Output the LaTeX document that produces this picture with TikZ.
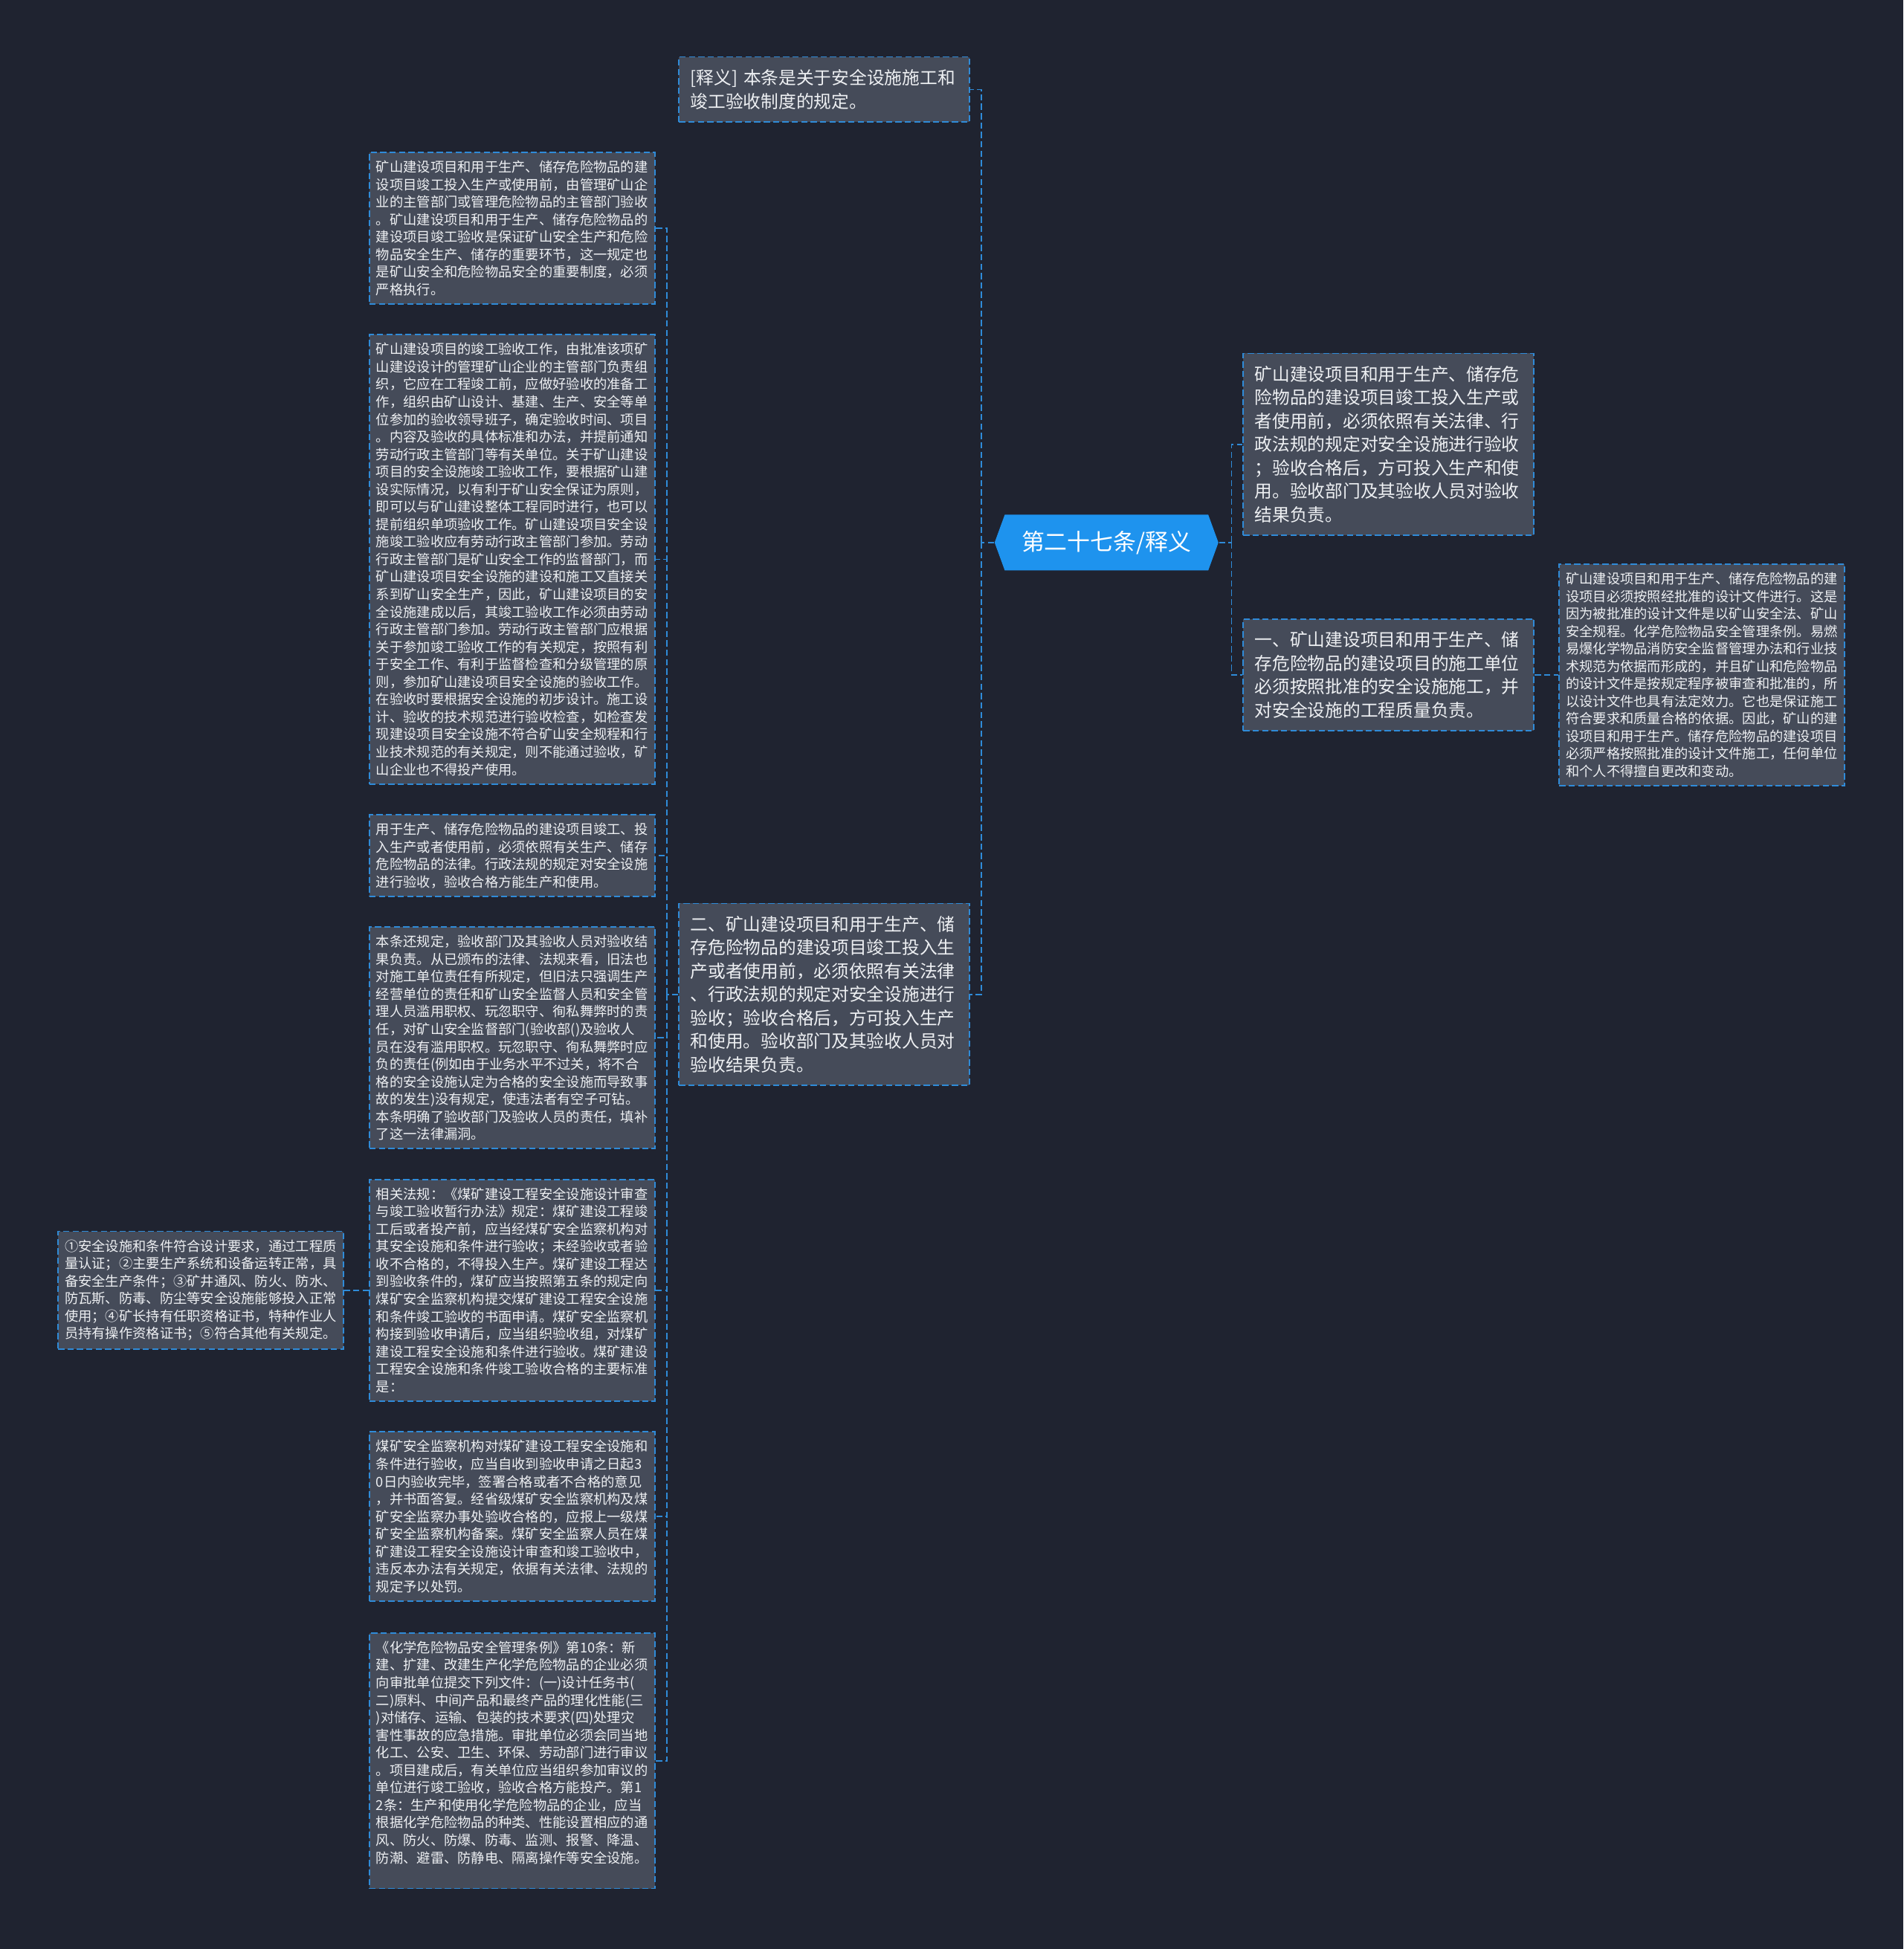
\documentclass[tikz,border=0pt]{standalone}
\usepackage{fontspec}
\setmainfont{Noto Sans CJK SC}
\usetikzlibrary{shapes.symbols,positioning}

\definecolor{bgdark}{HTML}{1F2330}
\definecolor{boxfill}{HTML}{454B59}
\definecolor{linkblue}{HTML}{2F8BD8}
\definecolor{rootblue}{HTML}{1E93EE}
\definecolor{txt}{HTML}{EEF0F3}

\begin{document}
\begin{tikzpicture}[
    note/.style={fill=boxfill, draw=linkblue, line width=0.5pt, dash pattern=on 2.4pt off 1.2pt,
        text=txt, align=left, inner ysep=0.11cm},
    small/.style={note, font=\fontsize{5.2}{6.7}\selectfont, text width=3.66cm, inner xsep=0.09cm},
    big/.style={note, font=\fontsize{6.75}{8.95}\selectfont, text width=3.6cm, inner xsep=0.155cm, inner ysep=0.17cm},
    root/.style={signal, signal to=west and east, signal pointer angle=140, fill=rootblue, text=white,
        font=\fontsize{8.8}{10}\selectfont, minimum width=3.01cm, minimum height=0.75cm, inner sep=0pt},
    link/.style={draw=linkblue, line width=0.5pt, dash pattern=on 2.4pt off 1.2pt},
]

% Background
\fill[bgdark] (0,0) rectangle (25.6,-26.22);

% Root
\node[root] (root) at (14.883,-7.299) {第二十七条/释义};

% Middle column
\node[big] (expl) at (11.087,-1.204) {[释义] 本条是关于安全设施施工和\\竣工验收制度的规定。};
\node[big] (mid) at (11.087,-13.378) {二、矿山建设项目和用于生产、储\\存危险物品的建设项目竣工投入生\\产或者使用前，必须依照有关法律\\、行政法规的规定对安全设施进行\\验收；验收合格后，方可投入生产\\和使用。验收部门及其验收人员对\\验收结果负责。};

% Right column
\node[big] (ra) at (18.678,-5.978) {矿山建设项目和用于生产、储存危\\险物品的建设项目竣工投入生产或\\者使用前，必须依照有关法律、行\\政法规的规定对安全设施进行验收\\；验收合格后，方可投入生产和使\\用。验收部门及其验收人员对验收\\结果负责。};
\node[big] (rb) at (18.678,-9.08) {一、矿山建设项目和用于生产、储\\存危险物品的建设项目的施工单位\\必须按照批准的安全设施施工，并\\对安全设施的工程质量负责。};
\node[small] (rc) at (22.892,-9.08) {矿山建设项目和用于生产、储存危险物品的建\\设项目必须按照经批准的设计文件进行。这是\\因为被批准的设计文件是以矿山安全法、矿山\\安全规程。化学危险物品安全管理条例。易燃\\易爆化学物品消防安全监督管理办法和行业技\\术规范为依据而形成的，并且矿山和危险物品\\的设计文件是按规定程序被审查和批准的，所\\以设计文件也具有法定效力。它也是保证施工\\符合要求和质量合格的依据。因此，矿山的建\\设项目和用于生产。储存危险物品的建设项目\\必须严格按照批准的设计文件施工，任何单位\\和个人不得擅自更改和变动。};

% Left column
\node[small] (l1) at (6.889,-3.069) {矿山建设项目和用于生产、储存危险物品的建\\设项目竣工投入生产或使用前，由管理矿山企\\业的主管部门或管理危险物品的主管部门验收\\。矿山建设项目和用于生产、储存危险物品的\\建设项目竣工验收是保证矿山安全生产和危险\\物品安全生产、储存的重要环节，这一规定也\\是矿山安全和危险物品安全的重要制度，必须\\严格执行。};
\node[small] (l2) at (6.889,-7.525) {矿山建设项目的竣工验收工作，由批准该项矿\\山建设设计的管理矿山企业的主管部门负责组\\织，它应在工程竣工前，应做好验收的准备工\\作，组织由矿山设计、基建、生产、安全等单\\位参加的验收领导班子，确定验收时间、项目\\。内容及验收的具体标准和办法，并提前通知\\劳动行政主管部门等有关单位。关于矿山建设\\项目的安全设施竣工验收工作，要根据矿山建\\设实际情况，以有利于矿山安全保证为原则，\\即可以与矿山建设整体工程同时进行，也可以\\提前组织单项验收工作。矿山建设项目安全设\\施竣工验收应有劳动行政主管部门参加。劳动\\行政主管部门是矿山安全工作的监督部门，而\\矿山建设项目安全设施的建设和施工又直接关\\系到矿山安全生产，因此，矿山建设项目的安\\全设施建成以后，其竣工验收工作必须由劳动\\行政主管部门参加。劳动行政主管部门应根据\\关于参加竣工验收工作的有关规定，按照有利\\于安全工作、有利于监督检查和分级管理的原\\则，参加矿山建设项目安全设施的验收工作。\\在验收时要根据安全设施的初步设计。施工设\\计、验收的技术规范进行验收检查，如检查发\\现建设项目安全设施不符合矿山安全规程和行\\业技术规范的有关规定，则不能通过验收，矿\\山企业也不得投产使用。};
\node[small] (l3) at (6.889,-11.513) {用于生产、储存危险物品的建设项目竣工、投\\入生产或者使用前，必须依照有关生产、储存\\危险物品的法律。行政法规的规定对安全设施\\进行验收，验收合格方能生产和使用。};
\node[small] (l4) at (6.889,-13.963) {本条还规定，验收部门及其验收人员对验收结\\果负责。从已颁布的法律、法规来看，旧法也\\对施工单位责任有所规定，但旧法只强调生产\\经营单位的责任和矿山安全监督人员和安全管\\理人员滥用职权、玩忽职守、徇私舞弊时的责\\任，对矿山安全监督部门(验收部()及验收人\\员在没有滥用职权。玩忽职守、徇私舞弊时应\\负的责任(例如由于业务水平不过关，将不合\\格的安全设施认定为合格的安全设施而导致事\\故的发生)没有规定，使违法者有空子可钻。\\本条明确了验收部门及验收人员的责任，填补\\了这一法律漏洞。};
\node[small] (l5) at (6.889,-17.357) {相关法规：《煤矿建设工程安全设施设计审查\\与竣工验收暂行办法》规定：煤矿建设工程竣\\工后或者投产前，应当经煤矿安全监察机构对\\其安全设施和条件进行验收；未经验收或者验\\收不合格的，不得投入生产。煤矿建设工程达\\到验收条件的，煤矿应当按照第五条的规定向\\煤矿安全监察机构提交煤矿建设工程安全设施\\和条件竣工验收的书面申请。煤矿安全监察机\\构接到验收申请后，应当组织验收组，对煤矿\\建设工程安全设施和条件进行验收。煤矿建设\\工程安全设施和条件竣工验收合格的主要标准\\是：};
\node[small] (l6) at (6.889,-20.401) {煤矿安全监察机构对煤矿建设工程安全设施和\\条件进行验收，应当自收到验收申请之日起3\\0日内验收完毕，签署合格或者不合格的意见\\，并书面答复。经省级煤矿安全监察机构及煤\\矿安全监察办事处验收合格的，应报上一级煤\\矿安全监察机构备案。煤矿安全监察人员在煤\\矿建设工程安全设施设计审查和竣工验收中，\\违反本办法有关规定，依据有关法律、法规的\\规定予以处罚。};
\node[small] (l7) at (6.889,-23.687) {《化学危险物品安全管理条例》第10条：新\\建、扩建、改建生产化学危险物品的企业必须\\向审批单位提交下列文件：(一)设计任务书(\\二)原料、中间产品和最终产品的理化性能(三\\)对储存、运输、包装的技术要求(四)处理灾\\害性事故的应急措施。审批单位必须会同当地\\化工、公安、卫生、环保、劳动部门进行审议\\。项目建成后，有关单位应当组织参加审议的\\单位进行竣工验收，验收合格方能投产。第1\\2条：生产和使用化学危险物品的企业，应当\\根据化学危险物品的种类、性能设置相应的通\\风、防火、防爆、防毒、监测、报警、降温、\\防潮、避雷、防静电、隔离操作等安全设施。\\ \mbox{}};

% Far left
\node[small] (fl) at (2.701,-17.357) {①安全设施和条件符合设计要求，通过工程质\\量认证；②主要生产系统和设备运转正常，具\\备安全生产条件；③矿井通风、防火、防水、\\防瓦斯、防毒、防尘等安全设施能够投入正常\\使用；④矿长持有任职资格证书，特种作业人\\员持有操作资格证书；⑤符合其他有关规定。};

% Links
\draw[link] (root.west) -- ++(-0.17,0) coordinate (jl);
\draw[link] (jl) |- (expl.east);
\draw[link] (jl) |- (mid.east);
\draw[link] (root.east) -- ++(0.17,0) coordinate (jr);
\draw[link] (jr) |- (ra.west);
\draw[link] (jr) |- (rb.west);
\draw[link] (rb.east) -- (rc.west);
\draw[link] (mid.west) -- ++(-0.15,0) coordinate (jm);
\foreach \n in {l1,l2,l3,l4,l5,l6,l7} {
    \draw[link] (jm) |- (\n.east);
}
\draw[link] (l5.west) -- (fl.east);

\end{tikzpicture}
\end{document}
